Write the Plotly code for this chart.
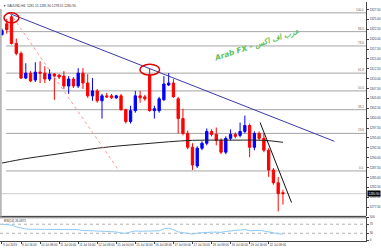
import plotly.graph_objects as go

# ---------------- data ----------------
candle_idx = list(range(60))
opens = [1321.15, 1323.90, 1325.65, 1318.90, 1316.40, 1310.15, 1311.40, 1309.65, 1311.65, 1311.40,
         1309.90, 1311.15, 1310.90, 1310.65, 1308.15, 1309.90, 1308.15, 1311.40, 1308.90, 1305.65,
         1306.90, 1304.40, 1305.65, 1305.65, 1305.15, 1305.65, 1302.15, 1299.15, 1301.90, 1305.65,
         1305.40, 1310.90, 1301.90, 1301.90, 1304.65, 1308.40, 1308.90, 1304.90, 1299.90, 1296.15,
         1292.65, 1287.90, 1292.40, 1293.65, 1296.65, 1295.90, 1294.40, 1291.40, 1294.90, 1295.90,
         1295.65, 1296.65, 1298.15, 1292.65, 1296.15, 1294.90, 1291.90, 1286.90, 1283.65, 1281.15]
highs = [1322.65, 1325.15, 1326.40, 1320.15, 1316.90, 1313.90, 1311.90, 1314.15, 1314.40, 1313.15,
         1312.40, 1311.40, 1311.15, 1311.90, 1310.65, 1310.40, 1312.65, 1312.65, 1311.15, 1310.15,
         1307.40, 1306.15, 1306.40, 1306.15, 1305.90, 1306.15, 1302.40, 1303.15, 1306.90, 1306.90,
         1305.90, 1312.65, 1303.15, 1305.40, 1310.65, 1311.40, 1309.90, 1305.40, 1302.40, 1296.90,
         1293.65, 1292.90, 1294.15, 1297.40, 1297.15, 1297.65, 1294.90, 1295.40, 1297.15, 1296.40,
         1298.90, 1300.65, 1298.65, 1296.65, 1296.65, 1296.15, 1292.40, 1287.40, 1285.15, 1281.90]
lows = [1320.90, 1321.40, 1318.65, 1315.90, 1309.90, 1309.90, 1309.15, 1309.15, 1308.90, 1308.90,
        1309.40, 1304.65, 1309.90, 1307.40, 1306.15, 1307.65, 1307.65, 1307.40, 1305.15, 1304.40,
        1303.90, 1299.90, 1305.15, 1304.90, 1304.90, 1301.90, 1298.65, 1298.65, 1301.40, 1303.90,
        1304.40, 1301.65, 1299.90, 1301.40, 1304.40, 1308.15, 1305.15, 1296.15, 1295.65, 1292.15,
        1286.90, 1287.40, 1291.90, 1293.15, 1295.40, 1293.15, 1290.90, 1290.90, 1294.40, 1294.90,
        1295.15, 1296.15, 1290.15, 1291.90, 1294.40, 1291.40, 1285.15, 1283.15, 1276.40, 1278.15]
closes = [1322.15, 1322.40, 1318.90, 1316.40, 1310.15, 1311.40, 1309.40, 1311.65, 1311.40, 1309.90,
          1311.15, 1310.65, 1310.40, 1308.15, 1309.90, 1308.15, 1311.40, 1308.90, 1305.65, 1306.90,
          1304.40, 1305.65, 1305.40, 1305.15, 1305.65, 1302.15, 1299.15, 1301.90, 1305.65, 1305.15,
          1304.90, 1301.90, 1302.40, 1304.90, 1308.65, 1308.90, 1305.40, 1299.90, 1296.15, 1292.65,
          1288.15, 1292.40, 1293.65, 1296.65, 1295.90, 1294.40, 1291.40, 1294.90, 1295.90, 1295.40,
          1296.65, 1298.15, 1292.65, 1296.15, 1294.90, 1291.90, 1286.90, 1283.65, 1280.90, 1280.90]

ma_idx = [0, 5, 10, 15, 20, 25, 30, 35, 40, 45, 50, 55, 59]
ma_vals = [1288.65, 1289.78, 1290.65, 1291.53, 1292.40, 1293.03, 1293.53, 1294.03, 1294.40,
           1294.45, 1294.45, 1294.40, 1293.90]

rsi_vals = [70, 69, 66, 58, 52, 49, 48, 48, 48, 47, 48, 47, 48, 46, 47, 45, 46, 42, 40, 41,
            40, 39, 39, 40, 36, 31, 30, 36, 40, 39, 39, 40, 39, 41, 50, 52, 46, 36, 33, 30,
            26, 31, 33, 35, 35, 35, 34, 38, 42, 43, 44, 47, 41, 42, 43, 40, 35, 31, 28, 26]

# drawn objects
blue_trend_x = [1.25, 69.8]
blue_trend_y = [1326.65, 1294.15]
fib_trend_x = [1.67, 24.6]
fib_trend_y = [1326.65, 1286.65]
steep_trend_x = [54.2, 60.8]
steep_trend_y = [1298.90, 1278.65]
fib_labels = ["100.0", "88.6", "78.6", "61.8", "50.0", "38.2", "23.6", "0.0"]
fib_prices = [1326.65, 1321.90, 1318.28, 1311.40, 1306.90, 1302.15, 1296.15, 1286.65]
bid_price = 1280.90

x_tick_idx = [0, 4, 8, 12, 16, 20, 24, 28, 32, 36, 40, 44, 48, 52, 56]
x_tick_labels = ["9 Jul 2019", "9 Jul 16:00", "10 Jul 08:00", "11 Jul 00:00", "11 Jul 16:00",
                 "12 Jul 08:00", "15 Jul 00:00", "15 Jul 16:00", "16 Jul 08:00", "17 Jul 00:00",
                 "17 Jul 16:00", "18 Jul 08:00", "19 Jul 00:00", "19 Jul 16:00", "22 Jul 08:00"]
rsi_ticks = [0, 30, 70, 100]
rsi_levels = [30, 70]

W, H = 381, 250
XR = 369 / W
FONT = "Liberation Sans"
X_RANGE = [-0.417, 76.46]

fig = go.Figure()

fig.add_trace(go.Candlestick(
    x=candle_idx, open=opens, high=highs, low=lows, close=closes,
    increasing=dict(line=dict(color="#0000ff", width=1), fillcolor="#0000ff"),
    decreasing=dict(line=dict(color="#ff0000", width=1), fillcolor="#ff0000"),
    whiskerwidth=0, showlegend=False, hoverinfo="skip", xaxis="x", yaxis="y"))

fig.add_trace(go.Scatter(x=ma_idx, y=ma_vals, mode="lines", line=dict(color="#222222", width=1, shape="spline"),
                         showlegend=False, hoverinfo="skip", xaxis="x", yaxis="y"))
fig.add_trace(go.Scatter(x=blue_trend_x, y=blue_trend_y, mode="lines", line=dict(color="#3a3aa8", width=1),
                         showlegend=False, hoverinfo="skip", xaxis="x", yaxis="y"))
fig.add_trace(go.Scatter(x=fib_trend_x, y=fib_trend_y, mode="lines",
                         line=dict(color="#ff9a9a", width=1, dash="dot"),
                         showlegend=False, hoverinfo="skip", xaxis="x", yaxis="y"))
fig.add_trace(go.Scatter(x=steep_trend_x, y=steep_trend_y, mode="lines", line=dict(color="#111111", width=1),
                         showlegend=False, hoverinfo="skip", xaxis="x", yaxis="y"))
fig.add_trace(go.Scatter(x=candle_idx, y=rsi_vals, mode="lines", line=dict(color="#8fcaf5", width=1),
                         showlegend=False, hoverinfo="skip", xaxis="x", yaxis="y2"))

shapes = []
annotations = []
for lab, p in zip(fib_labels, fib_prices):
    shapes.append(dict(type="line", xref="x", yref="y", x0=0.85, x1=X_RANGE[1], y0=p, y1=p,
                       line=dict(color="#a4a4a4", width=1), layer="below"))
    annotations.append(dict(xref="x", yref="y", x=X_RANGE[1] - 0.15, y=p, xanchor="right", yanchor="bottom",
                            text=lab, showarrow=False, font=dict(family=FONT, size=3, color="#666666"),
                            borderpad=0))
shapes.append(dict(type="line", xref="x", yref="y", x0=X_RANGE[0], x1=X_RANGE[1], y0=bid_price, y1=bid_price,
                   line=dict(color="#cccccc", width=1), layer="below"))
for lv in rsi_levels:
    shapes.append(dict(type="line", xref="x", yref="y2", x0=X_RANGE[0], x1=X_RANGE[1], y0=lv, y1=lv,
                       line=dict(color="#b0b0b0", width=1, dash="dot"), layer="below"))
# red circles
shapes.append(dict(type="circle", xref="x", yref="y", x0=0.42, x1=3.54, y0=1324.15, y1=1326.65,
                   line=dict(color="#e00000", width=1.5)))
shapes.append(dict(type="circle", xref="x", yref="y", x0=28.96, x1=33.1, y0=1310.9, y1=1313.65,
                   line=dict(color="#e00000", width=1.5)))
# panel frames
shapes.append(dict(type="line", xref="paper", yref="paper", x0=0, x1=XR, y0=33 / H, y1=33 / H,
                   line=dict(color="#333333", width=1)))
shapes.append(dict(type="line", xref="paper", yref="paper", x0=0, x1=XR, y0=31.6 / H, y1=31.6 / H,
                   line=dict(color="#777777", width=1)))
shapes.append(dict(type="rect", xref="paper", yref="paper", x0=0, x1=1.8 / W, y0=33 / H, y1=243 / H,
                   fillcolor="#b8b8b8", line=dict(width=0)))

annotations.append(dict(xref="paper", yref="paper", x=2 / W, y=1 - 1 / H, xanchor="left", yanchor="top",
                        text="▼ XAUUSD,H4  1281.15 1281.90 1278.15 1280.90", showarrow=False,
                        font=dict(family=FONT, size=3.2, color="#333333"), borderpad=0))
annotations.append(dict(xref="paper", yref="paper", x=3 / W, y=1 - 218.5 / H, xanchor="left", yanchor="top",
                        text="RSI(14) 26.0871", showarrow=False,
                        font=dict(family=FONT, size=3, color="#333333"), borderpad=0))
annotations.append(dict(xref="paper", yref="y", x=XR + 1 / W, y=bid_price, xanchor="left", yanchor="middle",
                        text="1280.90", showarrow=False, bgcolor="#000000",
                        font=dict(family=FONT, size=3, color="#ffffff"), borderpad=0.5))
annotations.append(dict(xref="paper", yref="paper", x=259 / W, y=1 - 43 / H, xanchor="center", yanchor="middle",
                        text="<b><i>Arab FX - عرب اف اكس</i></b>", showarrow=False, textangle=-18,
                        font=dict(family="DejaVu Sans", size=7.5, color="#5cbf5c")))

fig.update_layout(
    width=W, height=H, margin=dict(l=0, r=0, t=0, b=0),
    paper_bgcolor="white", plot_bgcolor="white", showlegend=False,
    shapes=shapes, annotations=annotations,
    xaxis=dict(domain=[0, XR], range=X_RANGE, anchor="y2", showgrid=False, zeroline=False,
               tickvals=x_tick_idx, ticktext=x_tick_labels, ticks="outside", ticklen=2, tickcolor="#444444",
               tickangle=0, ticklabelposition="outside right",
               tickfont=dict(family=FONT, size=3, color="#333333"),
               showline=True, linecolor="#444444", linewidth=1, rangeslider=dict(visible=False),
               fixedrange=True),
    yaxis=dict(domain=[33 / H, 1], range=[1275.15, 1329.40], side="right", anchor="x",
               tick0=1277.5, dtick=2.5, tickformat=".2f", ticks="outside", ticklen=2, tickcolor="#444444",
               tickfont=dict(family=FONT, size=3, color="#333333"), showgrid=False, zeroline=False,
               showline=True, linecolor="#444444", linewidth=1, fixedrange=True),
    yaxis2=dict(domain=[8 / H, 32.1 / H], range=[-4.35, 100.5], side="right", anchor="x",
                tickvals=rsi_ticks, ticktext=[str(t) for t in rsi_ticks], ticks="outside", ticklen=2,
                tickcolor="#444444", tickfont=dict(family=FONT, size=3, color="#333333"),
                showgrid=False, zeroline=False, showline=True, linecolor="#444444", linewidth=1,
                fixedrange=True),
)

fig.write_html("out.html")
